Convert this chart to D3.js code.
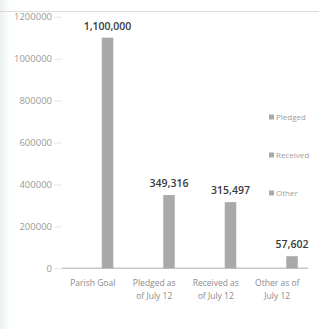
<!DOCTYPE html>
<html><head><meta charset="utf-8">
<script src="https://cdn.jsdelivr.net/npm/d3@7/dist/d3.min.js"></script>
<style>
html,body{margin:0;padding:0;background:#fff;}
svg{display:block;font-family:"Open Sans",sans-serif;}
</style></head>
<body>
<svg id="chart" width="319" height="329"></svg>
<script>
const categories = [["Parish Goal"], ["Pledged as", "of July 12"], ["Received as", "of July 12"], ["Other as of", "July 12"]];
const values = [1100000, 349316, 315497, 57602];
const valueLabels = ["1,100,000", "349,316", "315,497", "57,602"];
const tickValues = [0, 200000, 400000, 600000, 800000, 1000000, 1200000];
const legendItems = ["Pledged", "Received", "Other"];

(function(){
const svg = d3.select("#chart");
const W = 319, H = 329;
const mLeft = 62, mRight = 308, mTop = 16.7, mBottom = 268.3;

// background edge
const grad = svg.append("defs").append("linearGradient").attr("id","edge");
grad.append("stop").attr("offset","0").attr("stop-color","#e9f0ee");
grad.append("stop").attr("offset","1").attr("stop-color","#ffffff");
svg.append("rect").attr("x",0).attr("y",0).attr("width",10).attr("height",H).attr("fill","url(#edge)");
svg.append("line").attr("x1",0).attr("x2",W).attr("y1",11.5).attr("y2",11.5).attr("stroke","#dcdcdc").attr("stroke-width",1);

const keys = categories.map((c,i)=>i);
const x = d3.scaleBand().domain(keys).range([mLeft, mRight]).paddingInner(0).paddingOuter(0);
const y = d3.scaleLinear().domain([0, 1200000]).range([mBottom, mTop]);

// y axis
const yAxis = svg.append("g").attr("transform",`translate(${mLeft},0)`)
  .call(d3.axisLeft(y).tickValues(tickValues).tickSize(8).tickPadding(2).tickFormat(d3.format("d")));
yAxis.select(".domain").remove();
yAxis.selectAll(".tick line").attr("stroke","#e8e8e8");
yAxis.selectAll(".tick text").attr("fill","#999999").attr("font-size","9.5px").attr("font-family","Open Sans, sans-serif");

// x axis line
svg.append("line").attr("x1",mLeft).attr("x2",mRight).attr("y1",mBottom).attr("y2",mBottom)
  .attr("stroke","#c8c8c8").attr("stroke-width",1.5);

// bars
const bw = 11.5, off = x.bandwidth()*0.24;
svg.append("g").selectAll("rect").data(values).join("rect")
  .attr("x",(d,i)=>x(i)+x.bandwidth()/2+off-bw/2)
  .attr("y",d=>y(d))
  .attr("width",bw)
  .attr("height",d=>mBottom-y(d))
  .attr("fill","#a9a9a9");

// value labels
svg.append("g").selectAll("text").data(values).join("text")
  .attr("x",(d,i)=>x(i)+x.bandwidth()/2+off)
  .attr("y",d=>y(d)-8)
  .attr("text-anchor","middle")
  .attr("font-size","10.5px")
  .attr("font-weight","600")
  .attr("fill","#3a3a3a")
  .text((d,i)=>valueLabels[i]);

// category labels
const cl = svg.append("g").selectAll("text").data(categories).join("text")
  .attr("text-anchor","middle")
  .attr("font-size","8.5px")
  .attr("fill","#8a8a8a");
cl.each(function(lines,i){
  const t = d3.select(this);
  lines.forEach((ln,j)=>{
    t.append("tspan").attr("x",x(i)+x.bandwidth()/2).attr("y",mBottom+18+j*13).text(ln);
  });
});

// legend
const lg = svg.append("g").selectAll("g").data(legendItems).join("g")
  .attr("transform",(d,i)=>`translate(269,${117+i*38})`);
lg.append("rect").attr("x",0).attr("y",-3),lg.select("rect").attr("y",-2.5).attr("width",5).attr("height",5).attr("fill","#a9a9a9");
lg.append("text").attr("x",7).attr("y",0.5).attr("dominant-baseline","middle")
  .attr("font-size","8px").attr("fill","#a0a0a0").text(d=>d);
})();
</script>
</body></html>
